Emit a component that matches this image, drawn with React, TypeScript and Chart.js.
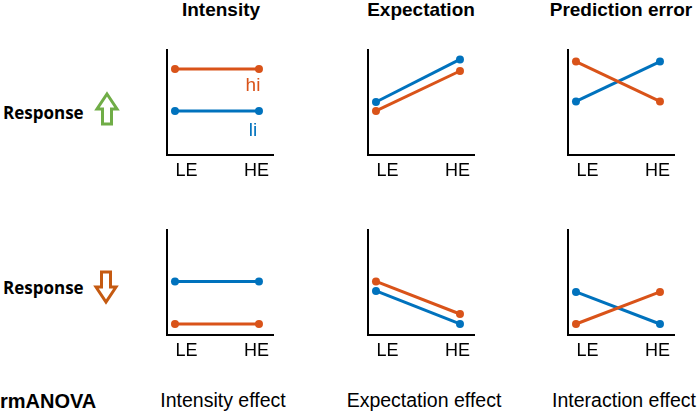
import React, { useEffect, useRef } from 'react';
import { Chart, registerables } from 'chart.js';

Chart.register(...registerables);

// ---- data ----
const conditions = ['LE', 'HE'];
const columnTitles = ['Intensity', 'Expectation', 'Prediction error'];
const effectLabels = ['Intensity effect', 'Expectation effect', 'Interaction effect'];
const rowLabel = 'Response';
const anovaLabel = 'rmANOVA';
const seriesNames = ['hi', 'li'];

// response up (top row): hi = orange, li = blue
const upIntensityHi = [8.2, 8.2];
const upIntensityLi = [4.2, 4.2];
const upExpectationHi = [4.2, 8.0];
const upExpectationLi = [5.05, 9.1];
const upPredictionHi = [8.9, 5.1];
const upPredictionLi = [5.1, 8.9];

// response down (bottom row)
const downIntensityHi = [1.05, 1.05];
const downIntensityLi = [5.1, 5.1];
const downExpectationHi = [5.1, 2.0];
const downExpectationLi = [4.2, 1.05];
const downPredictionHi = [1.05, 4.1];
const downPredictionLi = [4.1, 1.05];

// ---- styles ----
const ORANGE = '#D95319';
const BLUE = '#0072BD';
const ARIAL = '"Liberation Sans", Arial, sans-serif';
const LABEL_TICKS = [0.137, 0.97];

const panels = [
  { hi: upIntensityHi, li: upIntensityLi, axisX: 167, axisTop: 50, annotate: true },
  { hi: upExpectationHi, li: upExpectationLi, axisX: 368, axisTop: 50, annotate: false },
  { hi: upPredictionHi, li: upPredictionLi, axisX: 568, axisTop: 50, annotate: false },
  { hi: downIntensityHi, li: downIntensityLi, axisX: 167, axisTop: 230, annotate: false },
  { hi: downExpectationHi, li: downExpectationLi, axisX: 368, axisTop: 230, annotate: false },
  { hi: downPredictionHi, li: downPredictionLi, axisX: 568, axisTop: 230, annotate: false },
];

const PAD_TOP = 10;
const PAD_SIDE = 20;
const AREA_W = 106;
const AREA_H = 105;
const X_AXIS_H = 35;
const CANVAS_W = AREA_W + 2 * PAD_SIDE;
const CANVAS_H = PAD_TOP + AREA_H + X_AXIS_H;

const seriesLabelPlugin = {
  id: 'seriesLabels',
  afterDatasetsDraw(chart: any, _args: any, opts: any) {
    if (!opts || !opts.show) return;
    const { ctx, scales } = chart;
    ctx.save();
    ctx.font = `19px ${ARIAL}`;
    ctx.textAlign = 'center';
    ctx.textBaseline = 'middle';
    chart.data.datasets.forEach((ds: any, i: number) => {
      const last = ds.data[ds.data.length - 1];
      const x = scales.x.getPixelForValue(last.x) - 6;
      const y = scales.y.getPixelForValue(last.y) + (i === 0 ? 17 : 20);
      ctx.fillStyle = ds.borderColor;
      ctx.fillText(seriesNames[i], x, y);
    });
    ctx.restore();
  },
};

function Panel({ hi, li, annotate }: { hi: number[]; li: number[]; annotate: boolean }) {
  const ref = useRef<HTMLCanvasElement>(null);
  useEffect(() => {
    const mk = (vals: number[]) => conditions.map((_, i) => ({ x: i, y: vals[i] }));
    const ds = (label: string, vals: number[], color: string) => ({
      label,
      data: mk(vals),
      borderColor: color,
      backgroundColor: color,
      pointBackgroundColor: color,
      borderWidth: 3,
      pointRadius: 4,
      pointBorderWidth: 0,
      clip: false as any,
    });
    const chart = new Chart(ref.current as HTMLCanvasElement, {
      type: 'line',
      data: { datasets: [ds(seriesNames[0], hi, ORANGE), ds(seriesNames[1], li, BLUE)] },
      options: {
        animation: false,
        responsive: false,
        layout: { padding: { left: PAD_SIDE, right: PAD_SIDE, top: PAD_TOP, bottom: 0 } },
        plugins: {
          legend: { display: false },
          tooltip: { enabled: false },
          seriesLabels: { show: annotate },
        } as any,
        scales: {
          x: {
            type: 'linear',
            min: -0.095,
            max: 1.167,
            grid: { display: false, drawTicks: false },
            border: { display: true, color: '#000', width: 2 },
            afterBuildTicks: (axis: any) => {
              axis.ticks = LABEL_TICKS.map((v) => ({ value: v }));
            },
            afterFit: (axis: any) => {
              axis.height = X_AXIS_H;
            },
            ticks: {
              autoSkip: false,
              padding: 5,
              color: '#000',
              maxRotation: 0,
              font: { family: ARIAL, size: 18 },
              callback: (_v: any, i: number) => conditions[i],
            },
          },
          y: {
            min: 0,
            max: 10,
            grid: { display: false, drawTicks: false },
            border: { display: true, color: '#000', width: 2 },
            ticks: { display: false },
            afterFit: (axis: any) => {
              axis.width = 0;
            },
          },
        },
      },
      plugins: [seriesLabelPlugin],
    });
    return () => chart.destroy();
  }, []);
  return <canvas ref={ref} width={CANVAS_W} height={CANVAS_H} style={{ display: 'block', width: CANVAS_W, height: CANVAS_H }} />;
}

function Text({ x, y, children, bold, font, size, color }: any) {
  return (
    <div
      style={{
        position: 'absolute',
        left: x,
        top: y,
        transform: 'translate(-50%, -50%)',
        whiteSpace: 'nowrap',
        lineHeight: 1,
        fontFamily: font || ARIAL,
        fontWeight: bold ? 'bold' : 'normal',
        fontSize: size,
        color: color || '#000',
      }}
    >
      {children}
    </div>
  );
}

function Arrow({ x, y, up, color }: { x: number; y: number; up: boolean; color: string }) {
  const pts = up
    ? '10,0 20,15 14.5,15 14.5,30 5.5,30 5.5,15 0,15'
    : '5.5,0 14.5,0 14.5,15 20,15 10,30 0,15 5.5,15';
  return (
    <svg width={26} height={36} style={{ position: 'absolute', left: x - 3, top: y - 3 }}>
      <polygon points={pts} transform="translate(3,3)" fill="#fff" stroke={color} strokeWidth={3} strokeLinejoin="miter" />
    </svg>
  );
}

export default function App() {
  const titleX = [221, 421, 621];
  const effectX = [223, 424, 624];
  const rowStyle: any = { position: 'absolute', left: 3, transform: 'translateY(-50%)', lineHeight: 1, fontFamily: '"Open Sans", sans-serif', fontWeight: 'bold', fontSize: 17, whiteSpace: 'nowrap' };
  return (
    <div style={{ position: 'fixed', left: 0, top: 0, width: 700, height: 414, background: '#fff', overflow: 'hidden' }}>
      {columnTitles.map((t, i) => (
        <Text key={t} x={titleX[i]} y={9} bold size={19}>{t}</Text>
      ))}
      <div style={{ ...rowStyle, top: 112 }}>{rowLabel}</div>
      <div style={{ ...rowStyle, top: 287 }}>{rowLabel}</div>
      <Arrow x={97} y={94} up color="#70AD47" />
      <Arrow x={96} y={272} up={false} color="#C55A11" />
      {panels.map((p, i) => (
        <div key={i} style={{ position: 'absolute', left: p.axisX - PAD_SIDE, top: p.axisTop - PAD_TOP }}>
          <Panel hi={p.hi} li={p.li} annotate={p.annotate} />
        </div>
      ))}
      <div style={{ position: 'absolute', left: 0, top: 401, transform: 'translateY(-50%)', lineHeight: 1, fontFamily: ARIAL, fontWeight: 'bold', fontSize: 20, whiteSpace: 'nowrap' }}>{anovaLabel}</div>
      {effectLabels.map((t, i) => (
        <Text key={t} x={effectX[i]} y={401} size={19.5}>{t}</Text>
      ))}
    </div>
  );
}
